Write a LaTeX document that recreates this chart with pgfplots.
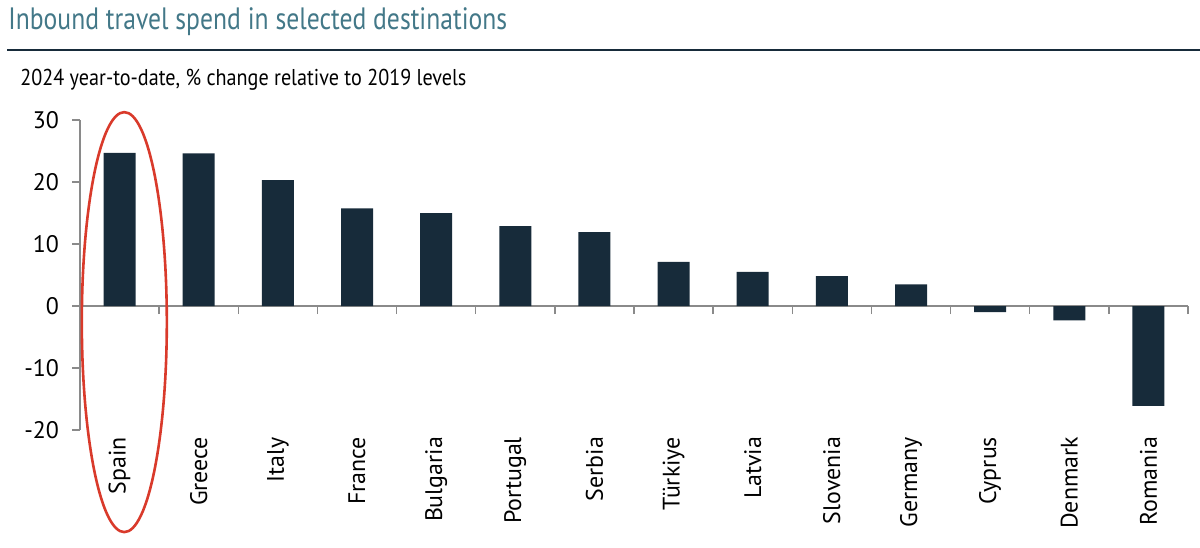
\documentclass[border=0pt]{standalone}
\usepackage{pgfplots}
\pgfplotsset{compat=1.18}
\usepackage{fontspec}
\setmainfont{PT Sans}
\definecolor{barc}{HTML}{172B3A}
\definecolor{ttl}{HTML}{437888}
\definecolor{ell}{HTML}{D93A2B}
\definecolor{axg}{HTML}{8A8A8A}
\begin{document}
\begin{tikzpicture}
\useasboundingbox (0bp,0bp) rectangle (600bp,274bp);
\node[anchor=base west, text=ttl, font=\fontsize{15.5}{18}\selectfont, inner sep=0] at (4bp,259bp) {\addfontfeature{FakeStretch=0.83}Inbound travel spend in selected destinations};
\draw[line width=0.75bp, color=barc] (3.5bp,249bp) -- (600bp,249bp);
\node[anchor=base west, font=\fontsize{11.5}{14}\selectfont, inner sep=0] at (10bp,231bp) {\addfontfeature{FakeStretch=0.88}2024 year-to-date, \% change relative to 2019 levels};
\begin{axis}[at={(40bp,59bp)}, anchor=south west, scale only axis,
  width=554bp, height=155bp,
  xmin=-0.5, xmax=13.5, ymin=-20, ymax=30,
  axis y line=left, axis x line=middle,
  axis line style={-, draw=axg, line width=0.7bp},
  tick style={draw=axg, line width=0.7bp},
  tick align=outside, major tick length=4bp,
  ytick={-20,-10,0,10,20,30},
  yticklabels={-20,-10,0,10,20,30},
  yticklabel style={font=\fontsize{12}{13}\selectfont, xshift=-3bp},
  xtick={0.5,1.5,...,13.5}, xticklabels={},
  extra x ticks={0,1,...,13},
  extra x tick labels={Spain,Greece,Italy,France,Bulgaria,Portugal,Serbia,Türkiye,Latvia,Slovenia,Germany,Cyprus,Denmark,Romania},
  extra x tick style={major tick length=0pt, xticklabel style={font=\fontsize{12}{13}\selectfont, yshift=-62bp, rotate=90, anchor=east}},
  clip=false,
]
\addplot[ybar, bar width=16bp, bar shift=0pt, fill=barc, draw=none] coordinates {
(0,24.7) (1,24.6) (2,20.3) (3,15.75) (4,15.0) (5,12.9) (6,11.9) (7,7.1) (8,5.5) (9,4.8) (10,3.5) (11,-1.0) (12,-2.3) (13,-16.1)};
\draw[ell, line width=1.3bp] (axis cs:0.06,-2.6) ellipse [x radius=21.25bp, y radius=105bp];
\end{axis}
\end{tikzpicture}
\end{document}
